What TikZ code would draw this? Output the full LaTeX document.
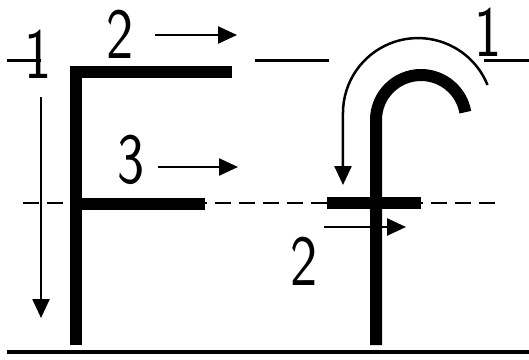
\documentclass[tikz,border=0pt]{standalone}
\usetikzlibrary{arrows.meta}
\begin{document}
\begin{tikzpicture}[x=1pt,y=-1pt,
  guide/.style={line width=3pt},
  midline/.style={line width=2pt, dash pattern=on 16pt off 8pt},
  baseline/.style={line width=4pt},
  letter/.style={line width=12pt},
  arr/.style={line width=2.5pt, -{Triangle[length=19pt,width=17pt]}},
  dig/.style={inner sep=0pt, font=\sffamily\fontsize{72}{72}\selectfont}]
\useasboundingbox (0,0) rectangle (529,359);
% guide lines
\draw[guide] (7,60) -- (41,60);
\draw[guide] (255,60) -- (329,60);
\draw[guide] (484,60) -- (529,60);
\draw[midline] (23,203) -- (501,203);
\draw[baseline] (7,352) -- (529,352);
% letter F
\draw[letter] (76,345) -- (76,72) -- (232,72);
\draw[letter] (76,204) -- (205,204);
% letter f
\draw[letter] (376,345) -- (376,120) arc[start angle=180, end angle=350, radius=45];
\draw[letter] (327,203) -- (421,203);
% labels
\node[dig] (l1a) at (38,54) {\scalebox{0.8}[1]{1}};
\node[dig] (l2a) at (120,34) {\scalebox{0.8}[1]{2}};
\node[dig] (l3) at (131,160) {\scalebox{0.8}[1]{3}};
\node[dig] (l1b) at (488,32) {\scalebox{0.8}[1]{1}};
\node[dig] (l2b) at (304,261) {\scalebox{0.8}[1]{2}};
% arrows
\draw[arr] (41,97) -- (41,318);
\draw[arr] (155,35) -- (237,35);
\draw[arr] (158,167) -- (238,167);
\draw[arr] (324,227) -- (406,227);
\draw[arr] (487.5,85) arc[start angle=338, end angle=180, radius=75] -- (343,185);
\end{tikzpicture}
\end{document}
